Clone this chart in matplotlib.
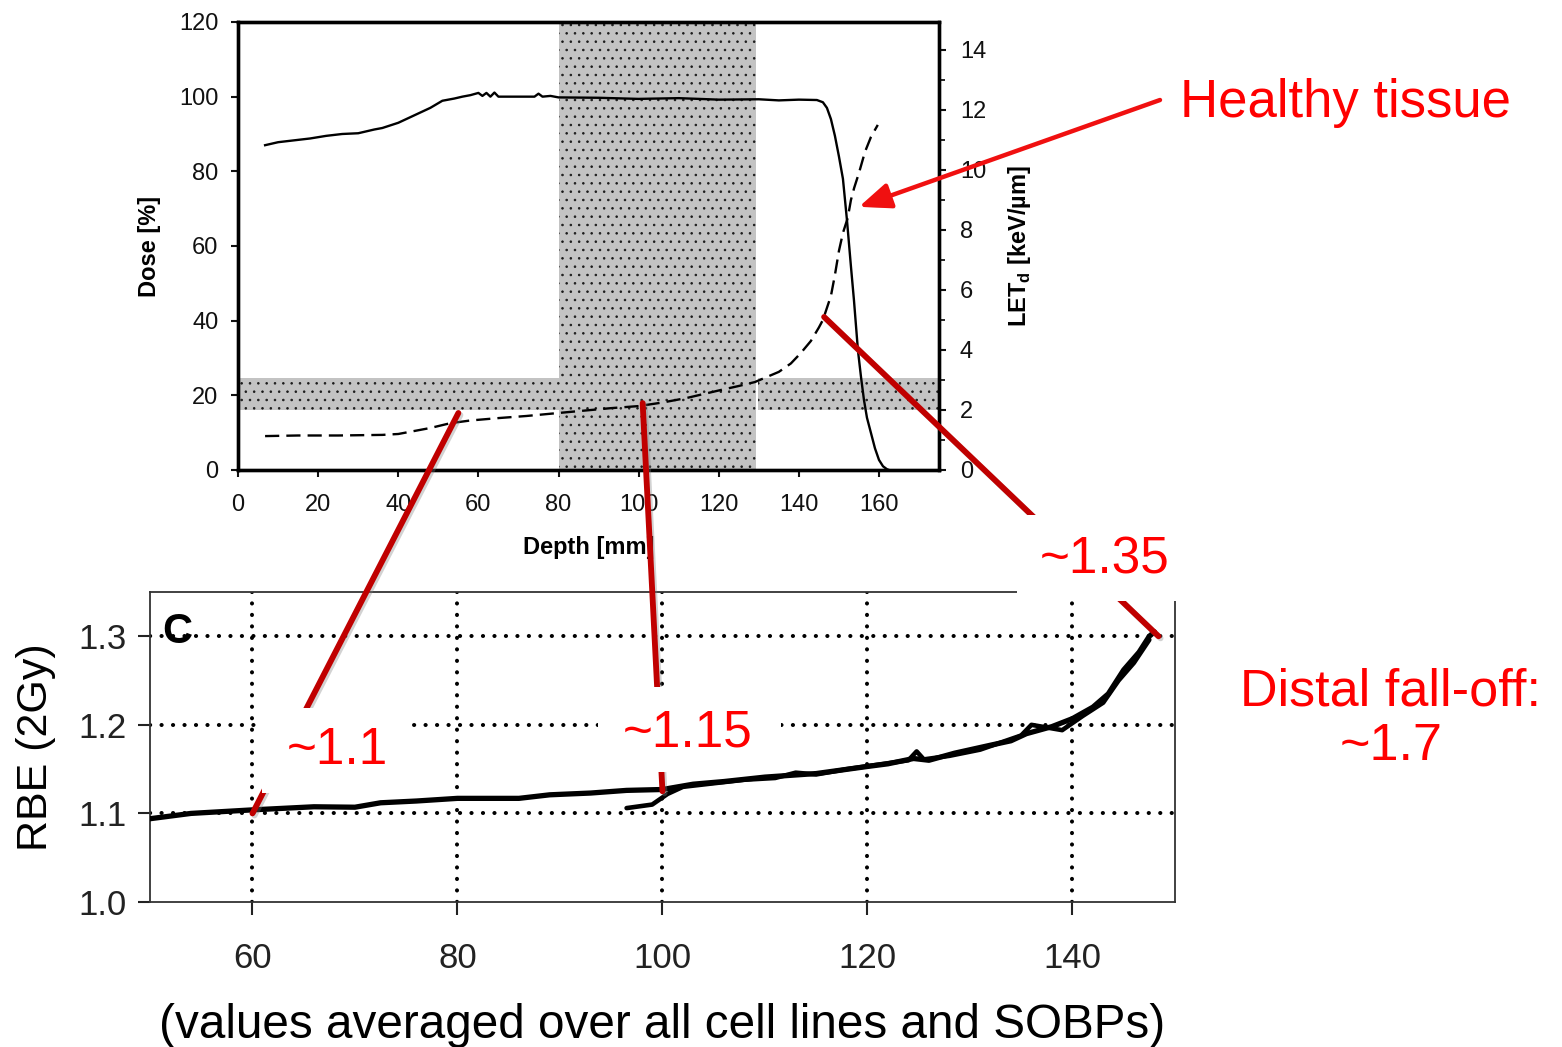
import numpy as np
import matplotlib
matplotlib.use("Agg")
import matplotlib.pyplot as plt
from matplotlib.patches import ConnectionPatch, Rectangle
import matplotlib.patheffects as pe

plt.rcParams['font.family'] = ['Liberation Sans', 'DejaVu Sans']
plt.rcParams['mathtext.fontset'] = 'custom'
plt.rcParams['mathtext.rm'] = 'Liberation Sans'
plt.rcParams['mathtext.bf'] = 'Liberation Sans:bold'
plt.rcParams['hatch.linewidth'] = 0.6

# depth-dose profile (upper panel, left axis)
dose_depth = [6.75, 10, 14, 18, 22, 26, 30, 34, 36, 40, 44, 48, 51, 54, 56, 58, 60, 61, 62, 63,
              64, 65, 70, 74, 75, 76, 78, 80, 90, 100, 110, 120, 130, 135, 140, 144.5, 146, 147,
              148, 149, 150, 151, 152, 153, 153.75, 154.75, 155.5, 156.25, 157, 158, 159, 160,
              161, 162, 162.5]
dose = [87.0, 87.8, 88.3, 88.8, 89.5, 90.0, 90.2, 91.2, 91.6, 93.0, 95.0, 97.0, 98.9, 99.5,
        100.0, 100.4, 101.0, 100.2, 101.0, 100.0, 101.1, 100.0, 100.0, 100.0, 100.8, 100.0,
        100.2, 99.8, 99.7, 99.4, 99.6, 99.2, 99.3, 99.0, 99.2, 99.1, 98.5, 97.0, 94.0, 89.5,
        84.0, 78.0, 67.0, 54.5, 45.5, 32.0, 25.0, 18.75, 14.0, 9.9, 5.8, 2.7, 1.0, 0.2, 0.0]

# dose-averaged LET (upper panel, right axis)
let_depth = [6.75, 15, 25, 36, 40, 44, 48, 53, 58, 65, 72, 80, 93, 100, 106, 112, 120, 125,
             129, 132, 135, 138, 140.5, 143, 145, 146, 147, 148, 149, 150, 151, 152.2, 153,
             153.8, 155, 156.5, 158, 159.7]
let_d = [1.13, 1.15, 1.15, 1.17, 1.2, 1.3, 1.4, 1.56, 1.65, 1.73, 1.8, 1.9, 2.06, 2.13, 2.25,
         2.4, 2.65, 2.8, 2.93, 3.1, 3.27, 3.55, 3.9, 4.3, 4.75, 5.0, 5.4, 5.8, 6.5, 7.3, 7.9,
         8.4, 9.0, 9.4, 9.9, 10.6, 11.1, 11.5]

# target region and LET band
sobp_range = (80, 129.3)
let_band = (2.0, 3.05)

# RBE (lower panel), two overlapping traces
rbe_depth_a = [50, 54, 60, 66, 70, 72.5, 76, 80, 86, 89, 93, 96.5, 100, 103, 106, 110, 115, 120,
               122, 124.5, 126, 128.5, 132, 134, 135.5, 138, 140, 142, 143.5, 145, 146.5, 147.5,
               148]
rbe_a = [1.094, 1.100, 1.104, 1.1075, 1.107, 1.112, 1.114, 1.117, 1.117, 1.121, 1.123, 1.126,
         1.127, 1.133, 1.136, 1.141, 1.145, 1.153, 1.156, 1.162, 1.160, 1.168, 1.177, 1.182,
         1.190, 1.198, 1.207, 1.220, 1.235, 1.262, 1.282, 1.300, 1.305]
rbe_depth_b = [96.5, 99, 100.5, 102, 105, 108, 111, 113, 115, 118, 121, 124, 124.8, 125.5, 128,
               131, 133, 135, 136, 139, 141, 143, 144.5, 146, 147.5]
rbe_b = [1.106, 1.110, 1.122, 1.130, 1.134, 1.138, 1.140, 1.146, 1.144, 1.150, 1.155, 1.160,
         1.170, 1.161, 1.165, 1.172, 1.180, 1.188, 1.200, 1.194, 1.210, 1.225, 1.250, 1.270, 1.296]

dose_ticks = [0, 20, 40, 60, 80, 100, 120]
let_ticks = [0, 2, 4, 6, 8, 10, 12, 14]
depth_ticks = [0, 20, 40, 60, 80, 100, 120, 140, 160]
rbe_xticks = [60, 80, 100, 120, 140]
rbe_yticks = [1.0, 1.1, 1.2, 1.3]

DOSE_MAX = 120
LET_MAX = 14.93

fig = plt.figure(figsize=(15.62, 10.47), dpi=100)

# ---------- upper panel: dose + LET ----------
ax = fig.add_axes([0.1524, 0.5511, 0.4488, 0.4279])
ax2 = ax.twinx()
scale = DOSE_MAX / LET_MAX
band_lo, band_hi = let_band[0] * scale, let_band[1] * scale
gray = '#c3c3c3'
ax.axvspan(*sobp_range, facecolor=gray, edgecolor='#1a1a1a', hatch='..', lw=0, zorder=1)
ax.fill_between([0, sobp_range[0]], band_lo, band_hi, facecolor=gray, edgecolor='#1a1a1a',
                hatch='..', lw=0, zorder=1)
ax.fill_between([sobp_range[1] + 0.4, 175], band_lo, band_hi, facecolor=gray,
                edgecolor='#1a1a1a', hatch='..', lw=0, zorder=1)
ax.plot(dose_depth, dose, color='black', lw=1.7, zorder=3)
ax2.plot(let_depth, let_d, color='black', lw=1.7, dashes=(6, 3))

ax.set_xlim(0, 175)
ax.set_ylim(0, DOSE_MAX)
ax2.set_ylim(0, LET_MAX)
ax.set_xticks(depth_ticks)
ax.set_yticks(dose_ticks)
ax2.set_yticks(let_ticks)
ax2.set_yticks(np.arange(1, 15, 1), minor=True)
for sp in ax.spines.values():
    sp.set_linewidth(2.4)
for sp in ax2.spines.values():
    sp.set_linewidth(2.4)
ax.tick_params(axis='both', direction='out', length=5, width=1.5, labelsize=17, pad=9,
               colors='#111111')
ax.tick_params(axis='x', pad=12)
ax2.tick_params(axis='y', which='major', direction='out', length=5, width=1.5, labelsize=17,
                pad=10, colors='#111111')
ax2.tick_params(axis='y', which='minor', direction='out', length=4, width=1.2)
ax.set_xlabel('Depth [mm]', fontsize=17, fontweight='bold', labelpad=15)
ax.set_ylabel('Dose [%]', fontsize=17, fontweight='bold', labelpad=13)
ax2.set_ylabel(r'LET$_\mathbf{d}$ [keV/µm]', fontsize=17, fontweight='bold', labelpad=14)

# ---------- lower panel: RBE ----------
bx = fig.add_axes([0.0960, 0.1385, 0.6562, 0.2961])
dot = dict(color='black', lw=2.9, linestyle=(0, (0.05, 2.8)), dash_capstyle='round', zorder=1)
for x in rbe_xticks:
    bx.axvline(x, **dot)
for y in rbe_yticks[1:]:
    bx.axhline(y, **dot)
bx.plot(rbe_depth_a, rbe_a, color='black', lw=3.8, solid_capstyle='round', zorder=3)
bx.plot(rbe_depth_b, rbe_b, color='black', lw=3.3, solid_capstyle='round', zorder=3)
bx.set_xlim(50, 150)
bx.set_ylim(1.0, 1.35)
bx.set_xticks(rbe_xticks)
bx.set_yticks(rbe_yticks)
bx.set_yticklabels([f'{v:.1f}' for v in rbe_yticks])
for sp in bx.spines.values():
    sp.set_linewidth(1.3)
    sp.set_color('#333333')
bx.tick_params(axis='x', direction='out', length=9, width=1.5, labelsize=25, pad=20,
               colors='#222222')
bx.tick_params(axis='y', direction='out', length=9, width=1.5, labelsize=25, pad=8,
               colors='#222222')
bx.set_ylabel('RBE (2Gy)', fontsize=31, labelpad=16)
bx.set_xlabel('(values averaged over all cell lines and SOBPs)', fontsize=34.3, labelpad=20)
bx.text(0.012, 0.87, 'C', transform=bx.transAxes, fontsize=30, fontweight='bold',
        va='center', ha='left', zorder=4)

# ---------- connectors between panels ----------
shadow = [pe.SimpleLineShadow(offset=(1.5, -1.5), shadow_color='gray', alpha=0.35), pe.Normal()]
links = [((55, 1.9), (60, 1.10)), ((101, 2.23), (100, 1.125)), ((146.3, 5.1), (148.4, 1.30))]
for (xa, ya), (xb, yb) in links:
    con = ConnectionPatch(xyA=(xa, ya), coordsA=ax2.transData, xyB=(xb, yb),
                          coordsB=bx.transData, color='#c00000', lw=4.2, zorder=5)
    con.set_path_effects(shadow)
    fig.add_artist(con)

W, H = 1562, 1047


def white_box(x0, y0, x1, y1):
    r = Rectangle((x0 / W, 1 - y1 / H), (x1 - x0) / W, (y1 - y0) / H,
                  transform=fig.transFigure, facecolor='white', edgecolor='none', zorder=6)
    fig.add_artist(r)


red = '#ff0000'
white_box(262, 708, 412, 793)
fig.text(337 / W, 1 - 750 / H, '~1.1', color=red, fontsize=37, ha='center', va='center', zorder=7)
white_box(598, 687, 781, 772)
fig.text(688 / W, 1 - 733 / H, '~1.15', color=red, fontsize=37, ha='center', va='center', zorder=7)
white_box(1017, 515, 1182, 601)
fig.text(1105 / W, 1 - 560 / H, '~1.35', color=red, fontsize=37, ha='center', va='center', zorder=7)

fig.text(1391 / W, 1 - 719 / H, 'Distal fall-off:\n~1.7', color=red, fontsize=37.5,
         ha='center', va='center', linespacing=1.15, zorder=7)
fig.text(1346 / W, 1 - 103 / H, 'Healthy tissue', color=red, fontsize=38,
         ha='center', va='center', zorder=7)

con = ConnectionPatch(xyA=(1160 / W, 1 - 100 / H), coordsA=fig.transFigure, xyB=(155, 8.77),
                      coordsB=ax2.transData, arrowstyle='-|>,head_length=1.6,head_width=0.65',
                      color='#f01010', lw=3.2, zorder=8, mutation_scale=12)
con.set_path_effects([pe.SimplePatchShadow(offset=(1.5, -1.5), alpha=0.3), pe.Normal()])
fig.add_artist(con)

fig.savefig('out.png', dpi=100, facecolor='white')
